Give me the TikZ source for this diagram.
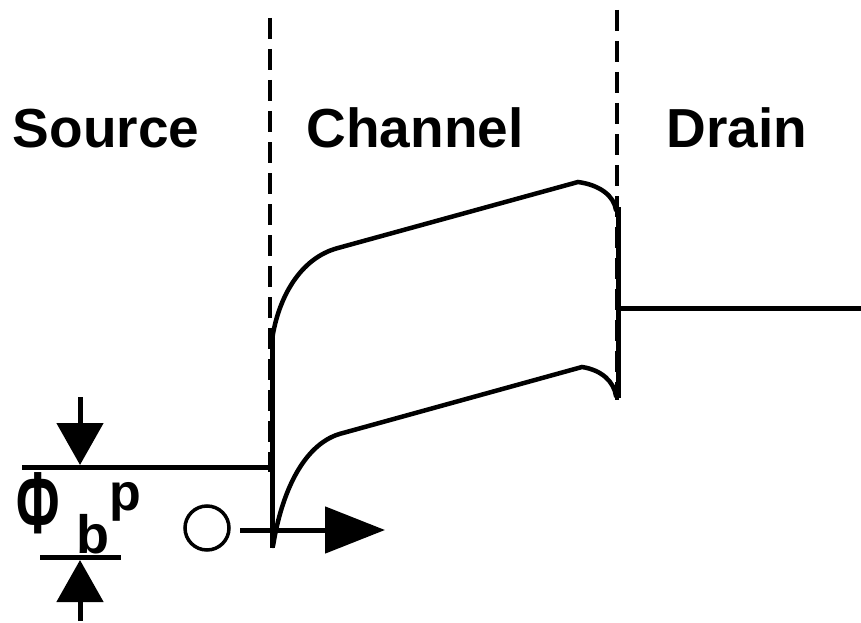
\documentclass[tikz,border=0pt]{standalone}
\usepackage{fontspec}
\setmainfont{Liberation Sans}
\usetikzlibrary{positioning, arrows.meta}

\begin{document}
\begin{tikzpicture}[
    x=1pt, y=-1pt,
    region/.style={font=\fontsize{55}{55}\selectfont\bfseries, inner sep=0pt, anchor=base},
    border/.style={line width=4.5pt, dash pattern=on 21pt off 10pt},
    band/.style={line width=4.5pt, line cap=round},
    level/.style={line width=5pt},
    vdrop/.style={line width=5pt, -{Triangle[length=42pt,width=46pt]}},
    hdrop/.style={line width=5pt, -{Triangle[length=60pt,width=46pt]}},
  ]
    \useasboundingbox (0,0) rectangle (861,623);
    \node[region] (src) at (106,147) {Source};
    \node[region] (chn) at (415,147) {Channel};
    \node[region] (drn) at (737,147) {Drain};

    \draw[border] (270,18) -- (270,472);
    \draw[border] (617,10) -- (617,400);

    \coordinate (sL) at (22,467);
    \coordinate (sR) at (272,467);
    \coordinate (dL) at (618,308);
    \coordinate (dR) at (861,308);
    \draw[level] (sL) -- (sR);
    \draw[level] (dL) -- (dR);
    \draw[level] (272,330) -- (272,548);
    \draw[level] (618,207) -- (618,398);

    \draw[band] (272,340) .. controls (278,298) and (300,258) .. (338,248) -- (578,182)
      .. controls (600,185) and (614,196) .. (616,210);
    \draw[band] (273,546) .. controls (282,490) and (305,442) .. (343,433) -- (582,367)
      .. controls (602,370) and (614,382) .. (616,396);

    \coordinate (aT) at (80,397);
    \coordinate (aB) at (80,621);
    \coordinate (lo) at (40,557);
    \coordinate (lo2) at (121,557);
    \draw[level] (lo) -- (lo2);
    \draw[vdrop] (aT) -- (80,465);
    \draw[vdrop] (aB) -- (80,560);

    \node[inner sep=0pt, anchor=base west] (phi) at (16,533)
      {\bfseries\scalebox{0.6}[1]{\fontsize{88}{88}\selectfont Φ}\hspace{17pt}\raisebox{-20pt}{\fontsize{54}{54}\selectfont b}\raisebox{23pt}{\fontsize{52}{52}\selectfont p}};

    \node[circle, draw, line width=3.5pt, minimum size=44pt, inner sep=0pt] (e) at (207,528) {};
    \coordinate (hT) at (385,530);
    \draw[hdrop] (240,530) -- (hT);
  \end{tikzpicture}
\end{document}
